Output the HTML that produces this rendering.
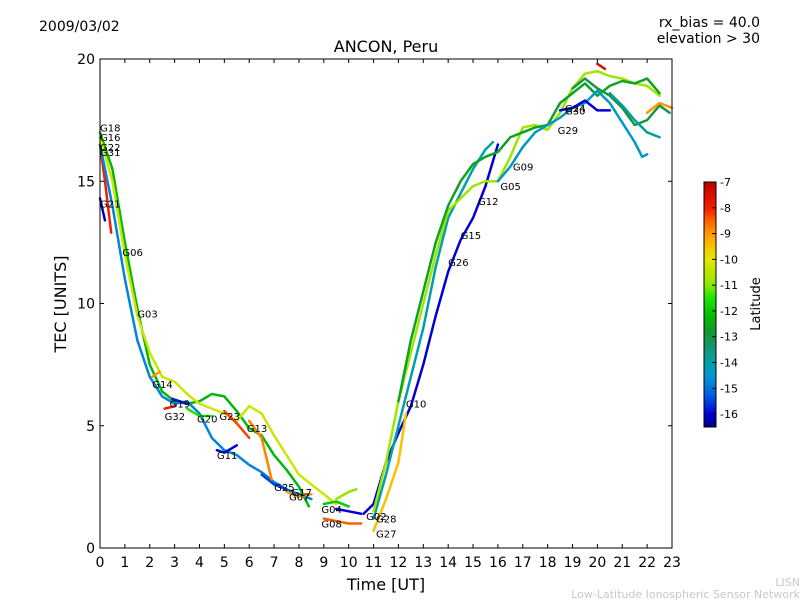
<!DOCTYPE html>
<html><head><meta charset="utf-8"><style>
body{margin:0;background:#fff;font-family:"Liberation Sans","DejaVu Sans",sans-serif}
svg text{font-family:"DejaVu Sans","Liberation Sans",sans-serif}
</style></head><body>
<svg id="chart" width="800" height="600">
<text x="39" y="31" font-size="14">2009/03/02</text>
<text x="760" y="27" font-size="14" text-anchor="end">rx_bias = 40.0</text>
<text x="760" y="43" font-size="14" text-anchor="end">elevation &gt; 30</text>
<text x="386" y="52" font-size="16" text-anchor="middle">ANCON, Peru</text>
<text x="386" y="590" font-size="16" text-anchor="middle">Time [UT]</text>
<text x="66" y="304" font-size="16" text-anchor="middle" transform="rotate(-90 66 304)">TEC [UNITS]</text>
<text x="760" y="304" font-size="13" text-anchor="middle" transform="rotate(-90 760 304)">Latitude</text>
<text x="800" y="586" font-size="11" fill="#c8c8c8" text-anchor="end">LISN</text>
<text x="800" y="598" font-size="11" fill="#c8c8c8" text-anchor="end">Low-Latitude Ionospheric Sensor Network</text>
<g id="plot"></g>
</svg>
<script>
const xTicks=[0,1,2,3,4,5,6,7,8,9,10,11,12,13,14,15,16,17,18,19,20,21,22,23];
const yTicks=[0,5,10,15,20];
const cbTicks=[-7,-8,-9,-10,-11,-12,-13,-14,-15,-16];
const trackLats=[-8,-16.2,-12.3,-14.8,-10.3,-9,-8,-15.8,-11.5,-8.3,-8.8,-16,-15.5,-9,-12,-11,-8.5,-16,-16,-9.5,-14,-10.8,-12.6,-14.5,-16,-7.5,-13,-13.8,-9];
const trackPts=[
[[0,16.5],[0.2,15],[0.45,12.9]],
[[0,14.3],[0.2,13.4]],
[[0,17],[0.5,15.5],[1,12.5],[1.5,9.8],[2,7.5],[2.5,6.4],[3,6.0],[3.5,5.9],[4,6.0],[4.5,6.3],[5,6.2],[5.5,5.6],[6,4.9],[6.5,4.6],[7,3.8],[7.5,3.2],[8,2.5],[8.4,1.7]],
[[0,16.5],[0.5,14],[1,11],[1.5,8.5],[2,7],[2.5,6.2],[3,5.9],[3.5,6],[4,5.5],[4.5,4.5],[5,4],[5.5,3.8],[6,3.4],[6.5,3.1],[7,2.7],[7.5,2.4],[8,2.2],[8.5,2.0]],
[[0,16.8],[0.5,15],[1,12],[1.5,9.5],[2,8],[2.5,7.0],[3,6.8],[3.5,6.3],[4,5.9],[4.5,5.7],[5,5.5],[5.5,5.2],[6,5.8],[6.5,5.5],[7,4.6],[7.5,3.8],[8,3.0],[8.5,2.6],[9,2.2],[9.5,1.8]],
[[2.1,7],[2.4,7.2]],
[[2.6,5.7],[3,5.8]],
[[2.9,6.1],[3.5,5.9]],
[[3.5,5.7],[4,5.4],[4.5,5.4]],
[[5,5.6],[5.5,5.1],[6,4.5]],
[[6,5.2],[6.5,4.5],[6.9,2.8]],
[[4.7,4.0],[5,3.9],[5.5,4.2]],
[[6.5,3],[7,2.6],[7.5,2.4]],
[[7.5,2.3],[8,2.1],[8.5,2.2]],
[[9,1.8],[9.5,1.9],[10,1.7]],
[[9.5,2.0],[10,2.3],[10.3,2.4]],
[[9,1.2],[9.5,1.1],[10,1.0],[10.5,1.0]],
[[9.5,1.6],[10,1.5],[10.5,1.4]],
[[10.6,1.4],[11,1.8],[11.5,3.5],[12,4.7],[12.5,5.8],[13,7.5],[13.5,9.5],[14,11.3],[14.5,12.6],[15,13.5],[15.5,14.8],[16,16.5]],
[[11,0.7],[11.5,2],[12,3.5],[12.3,5.5]],
[[11,1.2],[11.5,3],[12,5],[12.5,7],[13,9],[13.5,11.5],[14,13.5],[14.5,14.5],[15,15.5],[15.5,16.3],[15.8,16.6]],
[[11,1.5],[11.5,3.5],[12,6],[12.5,8],[13,10],[13.5,12],[14,13.8],[14.5,14.3],[15,14.8],[15.5,15],[16,15],[16.5,16],[17,17.2],[17.5,17.3],[18,17.1],[18.5,17.8],[19,18.8],[19.5,19.4],[20,19.5],[20.5,19.3],[21,19.2],[21.5,19],[22,18.9],[22.5,18.5]],
[[12,6],[12.5,8.5],[13,10.5],[13.5,12.5],[14,14],[14.5,15],[15,15.7],[15.5,16],[16,16.2],[16.5,16.8],[17,17],[17.5,17.2],[18,17.3],[18.5,18.2],[19,18.6],[19.5,19],[20,18.5],[20.5,18.9],[21,19.1],[21.5,19],[22,19.2],[22.5,18.6]],
[[16,15],[16.5,15.6],[17,16.4],[17.5,17],[18,17.3],[18.5,17.6],[19,18],[19.5,18.2],[20,18.7],[20.5,18.2],[21,17.4],[21.5,16.6],[21.8,16.0],[22,16.1]],
[[18.5,17.9],[19,18],[19.5,18.3],[20,17.9],[20.5,17.9]],
[[20,19.8],[20.3,19.6]],
[[19,18.8],[19.5,19.2],[20,18.8],[20.5,18.5],[21,18],[21.5,17.3],[22,17.5],[22.5,18.1],[22.9,17.8]],
[[20.5,18.6],[21,18.1],[21.5,17.5],[22,17],[22.5,16.8]],
[[22,17.8],[22.5,18.2],[23,18]]
];
const labelNames=["G18","G16","G22","G31","G21","G06","G03","G14","G19","G32","G20","G23","G13","G11","G25","G17","G07","G04","G08","G02","G28","G27","G10","G26","G15","G12","G05","G09","G29","G24","G30"];
const labelT=[0,0,0,0,0,0.9,1.5,2.1,2.8,2.6,3.9,4.8,5.9,4.7,7,7.7,7.6,8.9,8.9,10.7,11.1,11.1,12.3,14,14.5,15.2,16.1,16.6,18.4,18.7,18.7];
const labelV=[17.2,16.8,16.4,16.2,14.1,12.1,9.6,6.7,5.9,5.4,5.3,5.4,4.9,3.8,2.5,2.3,2.1,1.6,1.0,1.3,1.2,0.6,5.9,11.7,12.8,14.2,14.8,15.6,17.1,18.0,17.9];
const X0=100,X1=672,Y0=548,Y1=59;
const sx=t=>X0+t/23*(X1-X0), sy=v=>Y0-v/20*(Y0-Y1);
const CB_T=182,CB_B=427,CBMAX=-7,CBMIN=-16.5;
const scy=l=>CB_T+(CBMAX-l)/(CBMAX-CBMIN)*(CB_B-CB_T);
const cmap=[[-16.5,[0,0,130]],[-16,[0,0,210]],[-15.3,[0,90,230]],[-14.6,[0,150,210]],[-14,[0,160,170]],[-13.4,[20,150,110]],[-12.8,[20,150,50]],[-12.2,[0,190,0]],[-11.5,[30,230,0]],[-11,[140,230,0]],[-10,[230,230,0]],[-9.3,[255,180,0]],[-8.6,[255,110,0]],[-8,[240,30,0]],[-7,[190,0,0]]];
function latColor(l){l=Math.max(-16.5,Math.min(-7,l));for(let i=0;i<cmap.length-1;i++){const a=cmap[i],b=cmap[i+1];if(l<=b[0]){const f=(l-a[0])/(b[0]-a[0]);const c=a[1].map((v,k)=>Math.round(v+(b[1][k]-v)*f));return `rgb(${c.join(',')})`;}}return 'rgb(190,0,0)';}
const NS="http://www.w3.org/2000/svg";
const g=document.getElementById('plot');
function mk(tag,attrs,parent){const e=document.createElementNS(NS,tag);for(const k in attrs)e.setAttribute(k,attrs[k]);(parent||g).appendChild(e);return e;}
const bg=mk('rect',{x:X0,y:Y1,width:X1-X0,height:Y0-Y1,fill:'#fff'});


trackPts.forEach((pts,i)=>{
 const p=mk('polyline',{points:pts.map(q=>sx(q[0])+','+sy(q[1])).join(' '),fill:'none',stroke:latColor(trackLats[i]),'stroke-width':2.5,'stroke-linejoin':'round','stroke-linecap':'round'});
 
 
});
labelNames.forEach((n,i)=>{
 const t=mk('text',{x:sx(labelT[i]),y:sy(labelV[i])+4,'font-size':10});t.textContent=n;
 
 
});
const fr=mk('rect',{x:X0,y:Y1,width:X1-X0,height:Y0-Y1,fill:'none',stroke:'#000','stroke-width':1});


xTicks.forEach(t=>{
 mk('line',{x1:sx(t),x2:sx(t),y1:Y0,y2:Y0-4,stroke:'#000'});
 mk('line',{x1:sx(t),x2:sx(t),y1:Y1,y2:Y1+4,stroke:'#000'});
 const tx=mk('text',{x:sx(t),y:Y0+19,'font-size':14,'text-anchor':'middle'});tx.textContent=t;
 
 
});
yTicks.forEach(v=>{
 mk('line',{x1:X0,x2:X0+4,y1:sy(v),y2:sy(v),stroke:'#000'});
 mk('line',{x1:X1,x2:X1-4,y1:sy(v),y2:sy(v),stroke:'#000'});
 const tx=mk('text',{x:X0-5,y:sy(v)+5,'font-size':14,'text-anchor':'end'});tx.textContent=v;
 
 
});
const defs=mk('defs',{});const lg=mk('linearGradient',{id:'cbg',x1:0,y1:1,x2:0,y2:0},defs);
for(let i=0;i<=38;i++){const l=CBMIN+i/38*(CBMAX-CBMIN);mk('stop',{offset:i/38,'stop-color':latColor(l)},lg);}
const cb=mk('rect',{x:704,y:CB_T,width:12,height:CB_B-CB_T,fill:'url(#cbg)',stroke:'#000','stroke-width':1});


cbTicks.forEach(l=>{
 mk('line',{x1:712,x2:716,y1:scy(l),y2:scy(l),stroke:'#000'});
 const tx=mk('text',{x:720,y:scy(l)+4,'font-size':11});tx.textContent=l;
 
 
});
</script>
</body></html>
